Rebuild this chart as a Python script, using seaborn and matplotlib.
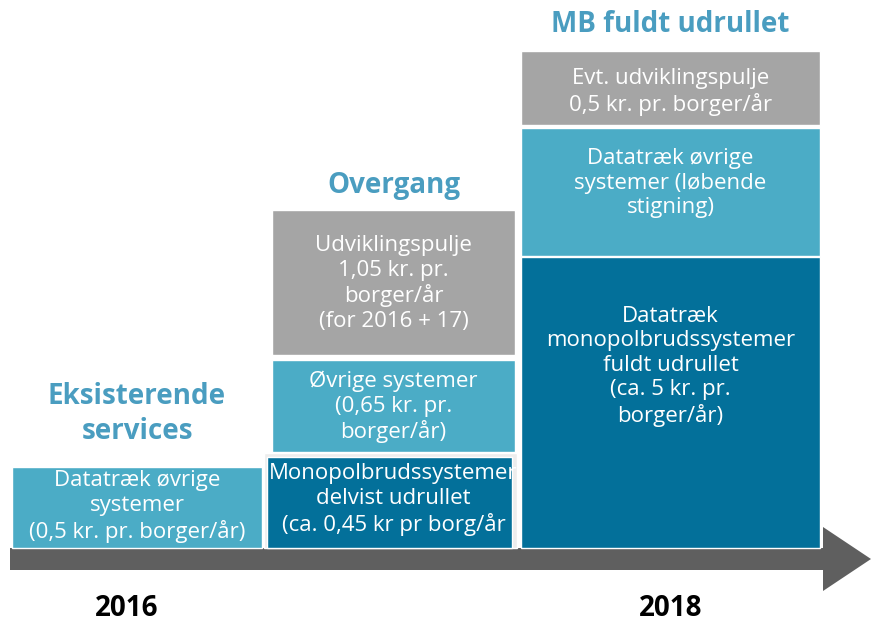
import matplotlib
matplotlib.use("Agg")
import matplotlib.pyplot as plt
import seaborn as sns
import pandas as pd

# ---------------------------------------------------------------------------
# Data
# ---------------------------------------------------------------------------
phases = ["Eksisterende\nservices", "Overgang", "MB fuldt udrullet"]
years = ["2016", "2018"]
year_phase = [0, 2]

seg_phase = [0, 1, 1, 1, 2, 2, 2]
seg_kind = ["light", "dark", "light", "gray", "dark", "light", "gray"]
seg_height = [81, 91, 92, 145, 291, 128, 74]
seg_text = [
    "Datatræk øvrige\nsystemer\n(0,5 kr. pr. borger/år)",
    "Monopolbrudssystemer\ndelvist udrullet\n(ca. 0,45 kr pr borg/år",
    "Øvrige systemer\n(0,65 kr. pr.\nborger/år)",
    "Udviklingspulje\n1,05 kr. pr.\nborger/år\n(for 2016 + 17)",
    "Datatræk\nmonopolbrudssystemer\nfuldt udrullet\n(ca. 5 kr. pr.\nborger/år)",
    "Datatræk øvrige\nsystemer (løbende\nstigning)",
    "Evt. udviklingspulje\n0,5 kr. pr. borger/år",
]

df = pd.DataFrame({"phase": seg_phase, "kind": seg_kind,
                   "height": seg_height, "text": seg_text})

# ---------------------------------------------------------------------------
# Layout / style
# ---------------------------------------------------------------------------
palette = {"light": "#4BACC6", "dark": "#03709A", "gray": "#A5A5A5"}
head_color = "#4A9DC0"
col_left = [12, 272, 521]
col_width = [250, 243, 299]
gap_below = [0, 0, 5, 5, 0, 1, 3]
text_shift = [1, 3, -1, -1, 36, 9, -4]
header_y = [134, 363, 523]

sns.set_theme(style="white")
plt.rcParams["font.family"] = ["Open Sans", "DejaVu Sans"]

fig = plt.figure(figsize=(8.71, 6.25), dpi=100)
ax = fig.add_axes([0, 0, 1, 1])
ax.set_xlim(0, 871)
ax.set_ylim(-77, 548)
ax.axis("off")

# stacked blocks
tops = [0, 0, 0]
for i, row in df.iterrows():
    p = row["phase"]
    bottom = tops[p] + gap_below[i]
    left, width = col_left[p], col_width[p]
    if p == 1 and row["kind"] == "dark":
        ax.bar(left - 8, row["height"] + 4, width=width + 10, bottom=bottom,
               align="edge", color="#EDEDED", zorder=2)
        ax.bar(left - 5, row["height"], width=width + 2, bottom=bottom,
               align="edge", color=palette[row["kind"]], zorder=3)
    else:
        ax.bar(left, row["height"], width=width, bottom=bottom,
               align="edge", color=palette[row["kind"]], zorder=3)
    ax.text(left + width / 2, bottom + row["height"] / 2 + text_shift[i],
            row["text"], ha="center", va="center", color="white",
            fontsize=16, linespacing=1.22, zorder=4)
    tops[p] = bottom + row["height"]

# phase headers
for p, name in enumerate(phases):
    ax.text(col_left[p] + col_width[p] / 2, header_y[p], name,
            ha="center", va="center", color=head_color,
            fontsize=20, fontweight="bold", linespacing=1.25)

# timeline arrow
ax.fill([10, 823, 823, 871, 823, 823, 10],
        [0, 0, 21, -11, -43, -22, -22],
        color="#5F5F5F", zorder=1, lw=0)

# years
for y, p in zip(years, year_phase):
    ax.text(col_left[p] + col_width[p] / 2 - (10 if p == 0 else 0), -61, y,
            ha="center", va="center", color="black",
            fontsize=20, fontweight="bold")

fig.savefig("out.png", dpi=100)
